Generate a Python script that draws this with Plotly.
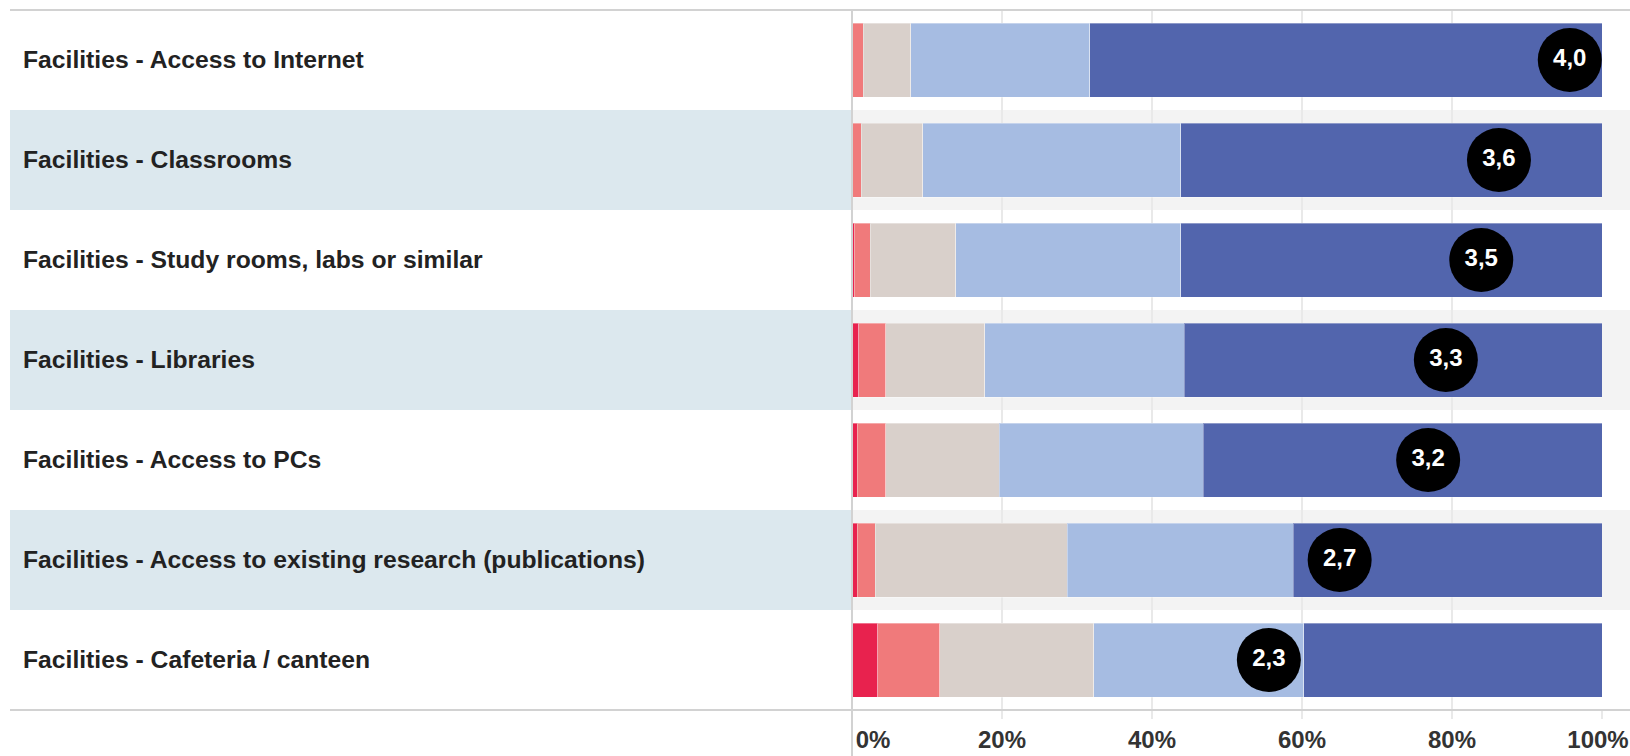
import plotly.graph_objects as go

# ---------------- data ----------------
categories = [
    "Facilities - Access to Internet",
    "Facilities - Classrooms",
    "Facilities - Study rooms, labs or similar",
    "Facilities - Libraries",
    "Facilities - Access to PCs",
    "Facilities - Access to existing research (publications)",
    "Facilities - Cafeteria / canteen",
]
very_bad = [0.0, 0.0, 0.3, 0.9, 0.7, 0.7, 3.4]
bad = [1.5, 1.2, 2.1, 3.6, 3.8, 2.4, 8.3]
neutral = [6.3, 8.2, 11.4, 13.2, 15.1, 25.6, 20.5]
good = [23.9, 34.4, 30.0, 26.6, 27.2, 30.1, 28.0]
very_good = [68.3, 56.2, 56.2, 55.7, 53.2, 41.2, 39.8]
means = [4.0, 3.6, 3.5, 3.3, 3.2, 2.7, 2.3]
tick_vals = [0, 20, 40, 60, 80, 100]
tick_labels = ["0%", "20%", "40%", "60%", "80%", "100%"]

series = [
    ("Very bad", very_bad, "#e8224e"),
    ("Bad", bad, "#f07a7b"),
    ("Neutral", neutral, "#d9d0cb"),
    ("Good", good, "#a6bce2"),
    ("Very good", very_good, "#5265ad"),
]

# mean (0-4 scale) -> position on the percentage axis
MEAN_OFFSET, MEAN_SLOPE = 1.3, 23.6

W, H = 1630, 756
ML, MR, MT, MB = 852, 28, 10, 46
PW = W - ML - MR
PH = H - MT - MB

fig = go.Figure()
for name, vals, col in series:
    fig.add_trace(go.Bar(
        y=categories, x=vals, name=name, orientation="h",
        marker=dict(color=col, line=dict(color="rgba(255,255,255,0.35)", width=1)),
        hoverinfo="x+name",
    ))

mean_x = [MEAN_OFFSET + MEAN_SLOPE * m for m in means]
mean_txt = [f"{m:.1f}".replace(".", ",") for m in means]
fig.add_trace(go.Scatter(
    y=categories, x=mean_x, mode="markers+text", text=mean_txt,
    textposition="middle center",
    textfont=dict(family="Liberation Sans", size=24, color="white", weight="bold"),
    marker=dict(size=64, color="black", line=dict(width=0)),
    showlegend=False, cliponaxis=False,
))

# invisible anchors so the two overlay axes (edge tick labels) get drawn
for ax in ("x2", "x3"):
    fig.add_trace(go.Scatter(
        x=[tick_vals[0]], y=[categories[0]], xaxis=ax, yaxis="y",
        mode="markers", marker=dict(opacity=0), hoverinfo="skip", showlegend=False,
    ))

# paper coordinates for the full-width decorations
px_left = (10 - ML) / PW
px_right = (W - ML) / PW
n = len(categories)

shapes = []
annotations = []
for i, cat in enumerate(categories):
    y1 = 1 - i / n
    y0 = 1 - (i + 1) / n
    if i % 2 == 1:
        shapes.append(dict(type="rect", xref="paper", yref="paper",
                           x0=px_left, x1=0, y0=y0, y1=y1,
                           fillcolor="#dce8ee", line=dict(width=0), layer="below"))
        shapes.append(dict(type="rect", xref="paper", yref="paper",
                           x0=0, x1=px_right, y0=y0, y1=y1,
                           fillcolor="#f3f3f3", line=dict(width=0), layer="below"))
    annotations.append(dict(
        xref="paper", yref="y", x=(21 - ML) / PW, y=cat, xanchor="left",
        yanchor="middle", text=cat, showarrow=False, yshift=1,
        font=dict(family="Liberation Sans", size=24.7, color="#222222", weight="bold"),
    ))

# top and bottom rules, left axis line
for yy in (0, 1):
    shapes.append(dict(type="line", xref="paper", yref="paper",
                       x0=px_left, x1=px_right, y0=yy, y1=yy,
                       line=dict(color="#d2d2d2", width=2), layer="above"))
shapes.append(dict(type="line", xref="paper", yref="paper",
                   x0=0, x1=0, y0=1, y1=-(MB / PH),
                   line=dict(color="#d2d2d2", width=2), layer="above"))

tick_font = dict(family="Liberation Sans", size=24, color="#333333", weight="bold")
# inner labels on the main axis; the first/last ones on overlay axes, shifted inward
main_text = [""] + tick_labels[1:-1] + [""]

edge_axis = dict(
    range=[0, 100], overlaying="x", anchor="y", side="bottom",
    showgrid=False, zeroline=False, showline=False,
    ticks="outside", ticklen=8, tickwidth=2, tickcolor="rgba(0,0,0,0)",
    tickfont=tick_font, fixedrange=True, automargin=False,
    ticklabeloverflow="allow",
)

fig.update_layout(
    width=W, height=H,
    margin=dict(l=ML, r=MR, t=MT, b=MB, pad=0, autoexpand=False),
    barmode="stack", bargap=0.26,
    plot_bgcolor="rgba(0,0,0,0)", paper_bgcolor="white",
    showlegend=False,
    shapes=shapes, annotations=annotations,
    xaxis=dict(
        range=[0, 100], tickvals=tick_vals, ticktext=main_text,
        showgrid=True, gridcolor="#e9e9e9", gridwidth=2, zeroline=False,
        ticks="outside", ticklen=8, tickcolor="#e9e9e9", tickwidth=2,
        tickfont=tick_font,
        showline=False, fixedrange=True, automargin=False,
        ticklabeloverflow="allow",
    ),
    xaxis2=dict(edge_axis, tickvals=[tick_vals[0]], ticktext=[tick_labels[0]],
                ticklabelshift=21),
    xaxis3=dict(edge_axis, tickvals=[tick_vals[-1]], ticktext=[tick_labels[-1]],
                ticklabelshift=-4),
    yaxis=dict(
        categoryorder="array", categoryarray=categories,
        range=[n - 0.5, -0.5], showticklabels=False, showgrid=False,
        zeroline=False, showline=False, fixedrange=True, automargin=False,
    ),
)

fig.write_html(
    "out.html",
    config={"displayModeBar": False},
    post_script="document.body.style.margin='0';document.body.style.overflow='hidden';",
)
